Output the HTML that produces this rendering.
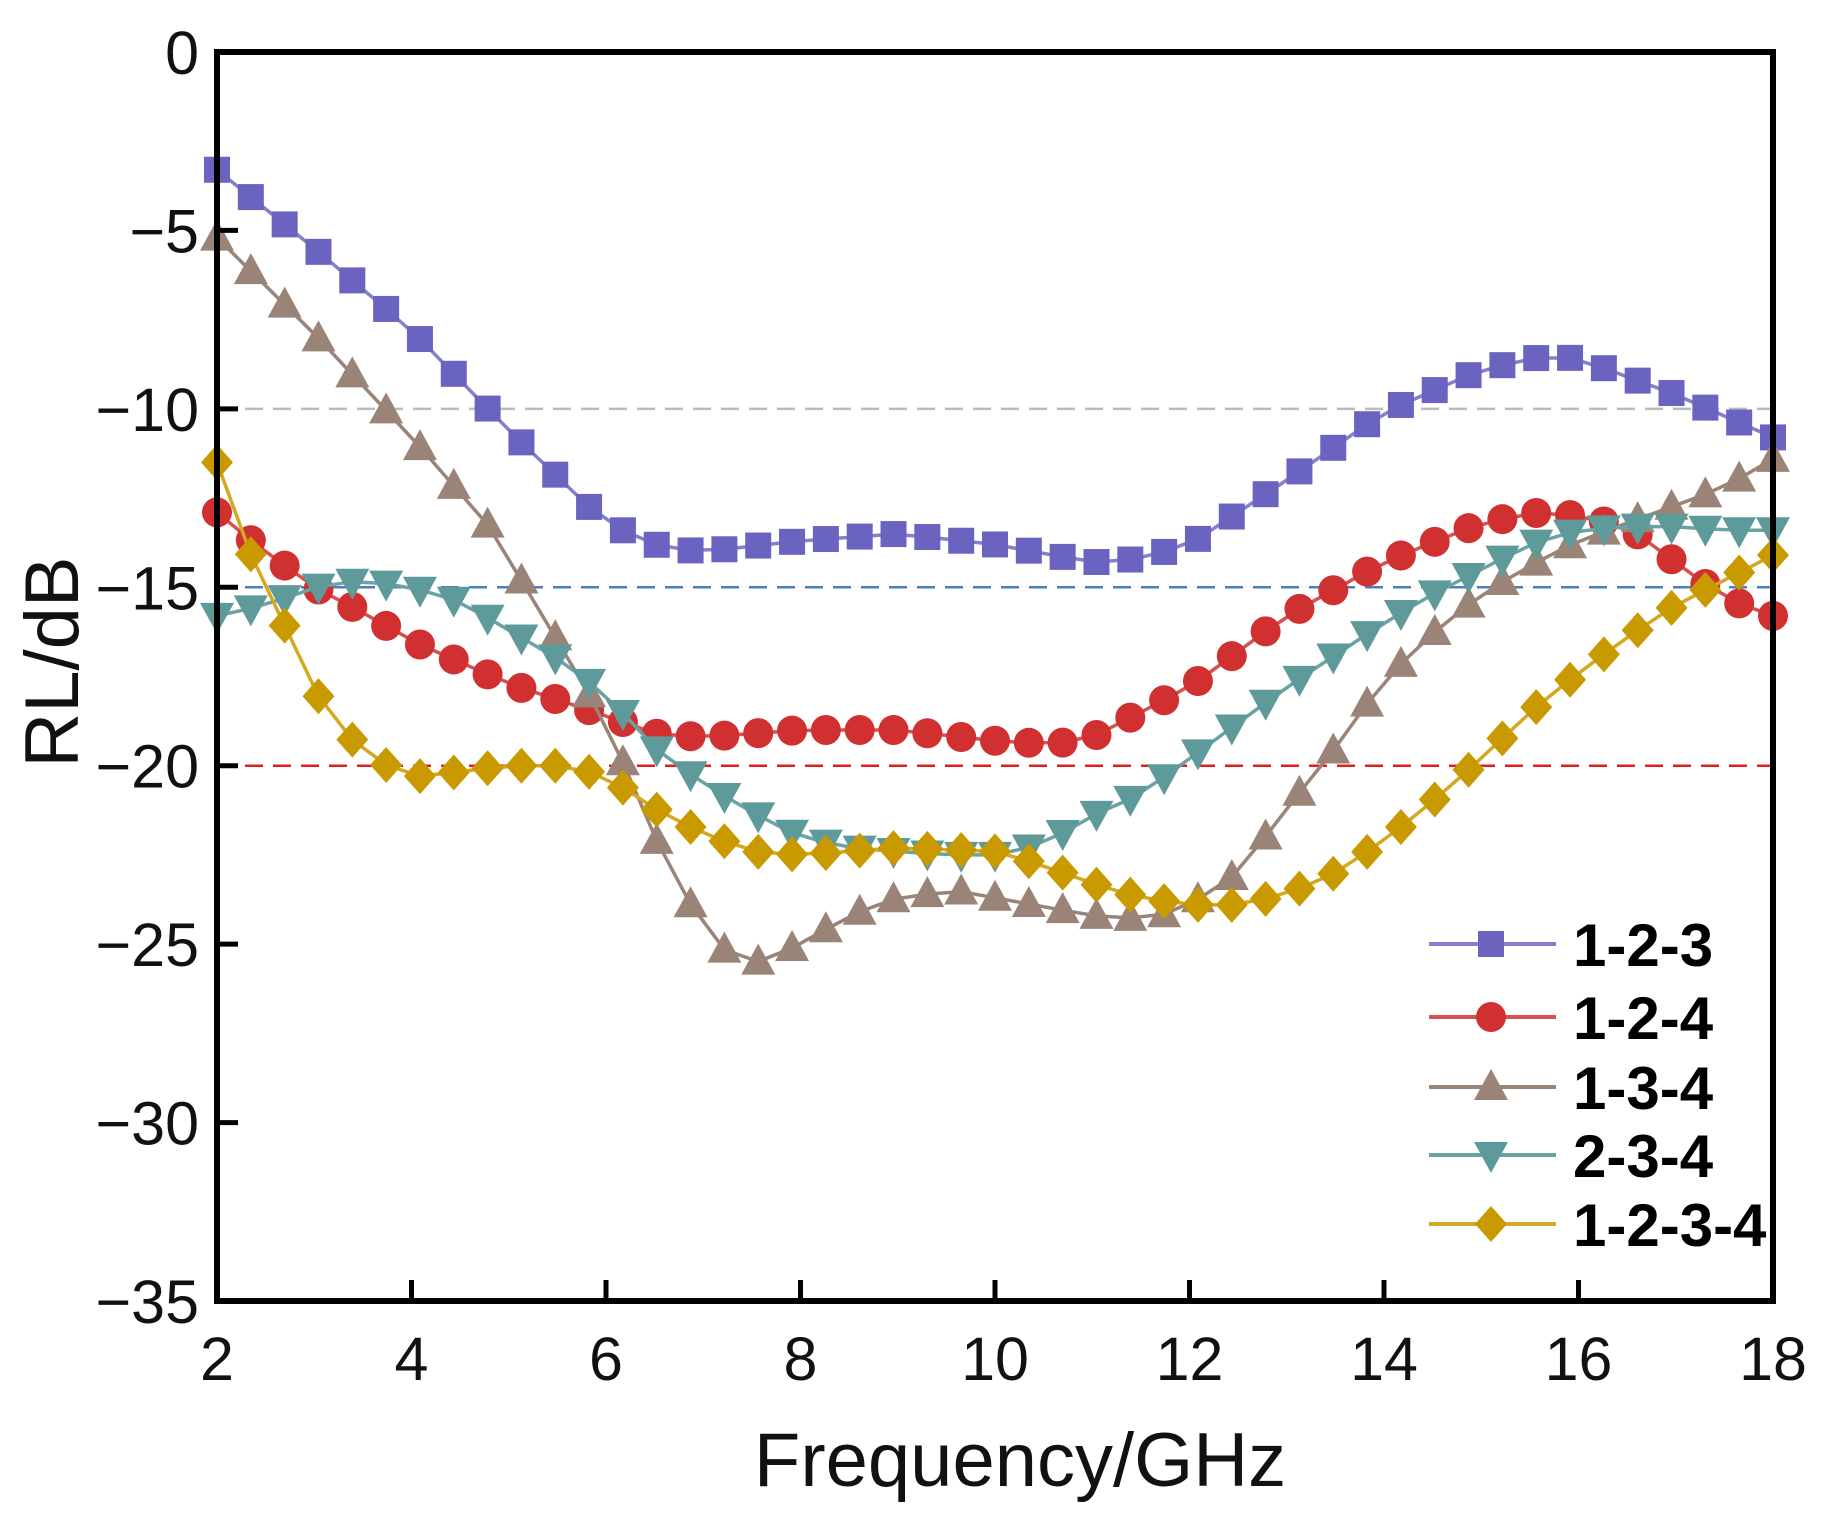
<!DOCTYPE html>
<html><head><meta charset="utf-8"><style>
html,body{margin:0;padding:0;background:#fff;}
svg{display:block;font-family:"Liberation Sans",Arial,sans-serif;}
</style></head><body>
<svg id="s" width="1838" height="1528" viewBox="0 0 1838 1528" xmlns="http://www.w3.org/2000/svg">
<rect width="1838" height="1528" fill="#fff"/>
<g id="grid"></g>
<g id="data"></g>
<rect x="217" y="52" width="1556" height="1249" fill="none" stroke="#000" stroke-width="6"/>
<g id="ticks"></g>
<g id="legend"></g>
<text x="1020" y="1486" font-size="76" text-anchor="middle" fill="#111">Frequency/GHz</text>
<text transform="translate(78,662) rotate(-90)" font-size="76" text-anchor="middle" fill="#111">RL/dB</text>
</svg>
<script>
var NS="http://www.w3.org/2000/svg";
function X(f){return 217+(f-2)*97.25;}
function Y(v){return 52-v*35.686;}
function el(p,t,a,txt){var e=document.createElementNS(NS,t);for(var k in a)e.setAttribute(k,a[k]);if(txt!==undefined)e.textContent=txt;p.appendChild(e);return e;}
var grid=document.getElementById('grid'),data=document.getElementById('data'),ticks=document.getElementById('ticks'),leg=document.getElementById('legend');
[[-10,'#bbbbbb'],[-15,'#4a7fb8'],[-20,'#e02020']].forEach(function(d){el(grid,'line',{x1:217,x2:1773,y1:Y(d[0]),y2:Y(d[0]),stroke:d[1],'stroke-width':2.5,'stroke-dasharray':'18,10'});});
for(var f=2;f<=18;f+=2){el(ticks,'line',{x1:X(f),x2:X(f),y1:1301,y2:1280,stroke:'#000','stroke-width':5});el(ticks,'text',{x:X(f),y:1380,'font-size':61,'text-anchor':'middle',fill:'#111'},String(f));}
for(var v=0;v>=-35;v-=5){el(ticks,'line',{x1:217,x2:238,y1:Y(v),y2:Y(v),stroke:'#000','stroke-width':5});el(ticks,'text',{x:199,y:Y(v)+22,'font-size':61,'text-anchor':'end',fill:'#111'},v==0?'0':'\u2212'+(-v));}
var S=[
{n:'1-2-3',c:'#6b63c0',l:'#8680cc',m:'sq',k:[[2,-3.3],[3,-5.5],[4,-7.8],[5,-10.6],[6,-13.2],[6.6,-13.9],[7,-14.0],[8,-13.7],[9,-13.5],[10,-13.8],[11,-14.3],[11.5,-14.2],[12,-13.8],[13,-12.0],[14,-10.1],[15,-8.9],[15.7,-8.5],[16,-8.6],[17,-9.6],[18,-10.8]]},
{n:'1-2-4',c:'#d03030',l:'#d85050',m:'ci',k:[[2,-12.9],[2.4,-13.8],[3,-15.0],[3.5,-15.7],[4,-16.5],[5,-17.7],[6,-18.6],[6.5,-19.1],[7,-19.2],[8,-19.0],[9,-19.0],[10,-19.3],[10.6,-19.4],[11,-19.2],[12,-17.8],[13,-15.8],[14,-14.3],[15,-13.2],[15.6,-12.9],[16,-13.0],[16.5,-13.3],[17,-14.3],[17.5,-15.3],[18,-15.8]]},
{n:'1-3-4',c:'#9a8478',l:'#9a8478',m:'up',k:[[2,-5.2],[3,-7.9],[4,-10.8],[4.8,-13.3],[5.5,-16.5],[6,-18.8],[6.6,-22.6],[7,-24.5],[7.3,-25.4],[7.6,-25.5],[8,-25.0],[8.5,-24.2],[9,-23.7],[9.6,-23.5],[10,-23.7],[11,-24.2],[11.6,-24.3],[12,-23.9],[12.5,-23.0],[13,-21.2],[13.5,-19.5],[14,-17.6],[14.5,-16.3],[15,-15.2],[15.5,-14.4],[16,-13.7],[16.5,-13.2],[17,-12.7],[17.5,-12.2],[18,-11.4]]},
{n:'2-3-4',c:'#5f9a9a',l:'#6aa3a3',m:'dn',k:[[2,-15.8],[2.5,-15.5],[3,-15.0],[3.5,-14.8],[4,-15.0],[4.5,-15.4],[5,-16.2],[5.5,-17.0],[6,-18.0],[6.5,-19.5],[7,-20.5],[7.5,-21.3],[8,-22.0],[8.5,-22.3],[9,-22.4],[9.5,-22.5],[10,-22.5],[10.5,-22.2],[11,-21.4],[11.5,-20.8],[12,-19.8],[12.5,-18.8],[13,-17.8],[13.5,-16.9],[14,-16.0],[14.5,-15.2],[15,-14.5],[15.5,-13.8],[16,-13.4],[16.5,-13.3],[17,-13.3],[17.5,-13.4],[18,-13.4]]},
{n:'1-2-3-4',c:'#c99a00',l:'#d4a820',m:'di',k:[[2,-11.5],[2.3,-13.8],[2.7,-16.1],[3,-17.9],[3.4,-19.3],[3.8,-20.1],[4.1,-20.3],[5,-20.0],[5.6,-20.0],[6,-20.3],[6.5,-21.2],[7,-21.9],[7.5,-22.4],[8,-22.5],[9,-22.3],[10,-22.4],[10.5,-22.8],[11,-23.3],[11.5,-23.7],[12,-23.9],[12.5,-23.9],[13,-23.6],[13.5,-23.0],[14,-22.1],[14.5,-21.0],[15,-19.8],[15.5,-18.5],[16,-17.4],[16.5,-16.4],[17,-15.5],[17.5,-14.8],[18,-14.1]]}
];
function interp(k,f){for(var i=0;i<k.length-1;i++){if(f<=k[i+1][0]+1e-9){var t=(f-k[i][0])/(k[i+1][0]-k[i][0]);return k[i][1]+t*(k[i+1][1]-k[i][1]);}}return k[k.length-1][1];}
function mark(p,m,x,y,c){
 if(m=='sq')el(p,'rect',{x:x-13,y:y-13,width:26,height:26,fill:c});
 else if(m=='ci')el(p,'circle',{cx:x,cy:y,r:15,fill:c});
 else if(m=='up')el(p,'polygon',{points:(x)+','+(y-18)+' '+(x-17)+','+(y+13)+' '+(x+17)+','+(y+13),fill:c});
 else if(m=='dn')el(p,'polygon',{points:(x)+','+(y+18)+' '+(x-17)+','+(y-13)+' '+(x+17)+','+(y-13),fill:c});
 else el(p,'polygon',{points:x+','+(y-18)+' '+(x+16)+','+y+' '+x+','+(y+18)+' '+(x-16)+','+y,fill:c});
}
var N=47;
S.forEach(function(s,si){
 var g=el(data,'g',{}),pts=[];
 for(var i=0;i<N;i++){var f=2+16*i/(N-1);pts.push([X(f),Y(interp(s.k,f))]);}
 el(g,'polyline',{points:pts.map(function(p){return p[0].toFixed(1)+','+p[1].toFixed(1);}).join(' '),fill:'none',stroke:s.l,'stroke-width':3.5});
 pts.forEach(function(p){mark(g,s.m,p[0],p[1],s.c);});
 var ly=[944,1017,1087,1155,1224][si];
 el(leg,'line',{x1:1429,x2:1556,y1:ly,y2:ly,stroke:s.l,'stroke-width':4});
 mark(leg,s.m,1491,ly,s.c);
 el(leg,'text',{x:1573,y:ly+22,'font-size':60,'font-weight':'bold',fill:'#000'},s.n);
});
</script>
</body></html>
